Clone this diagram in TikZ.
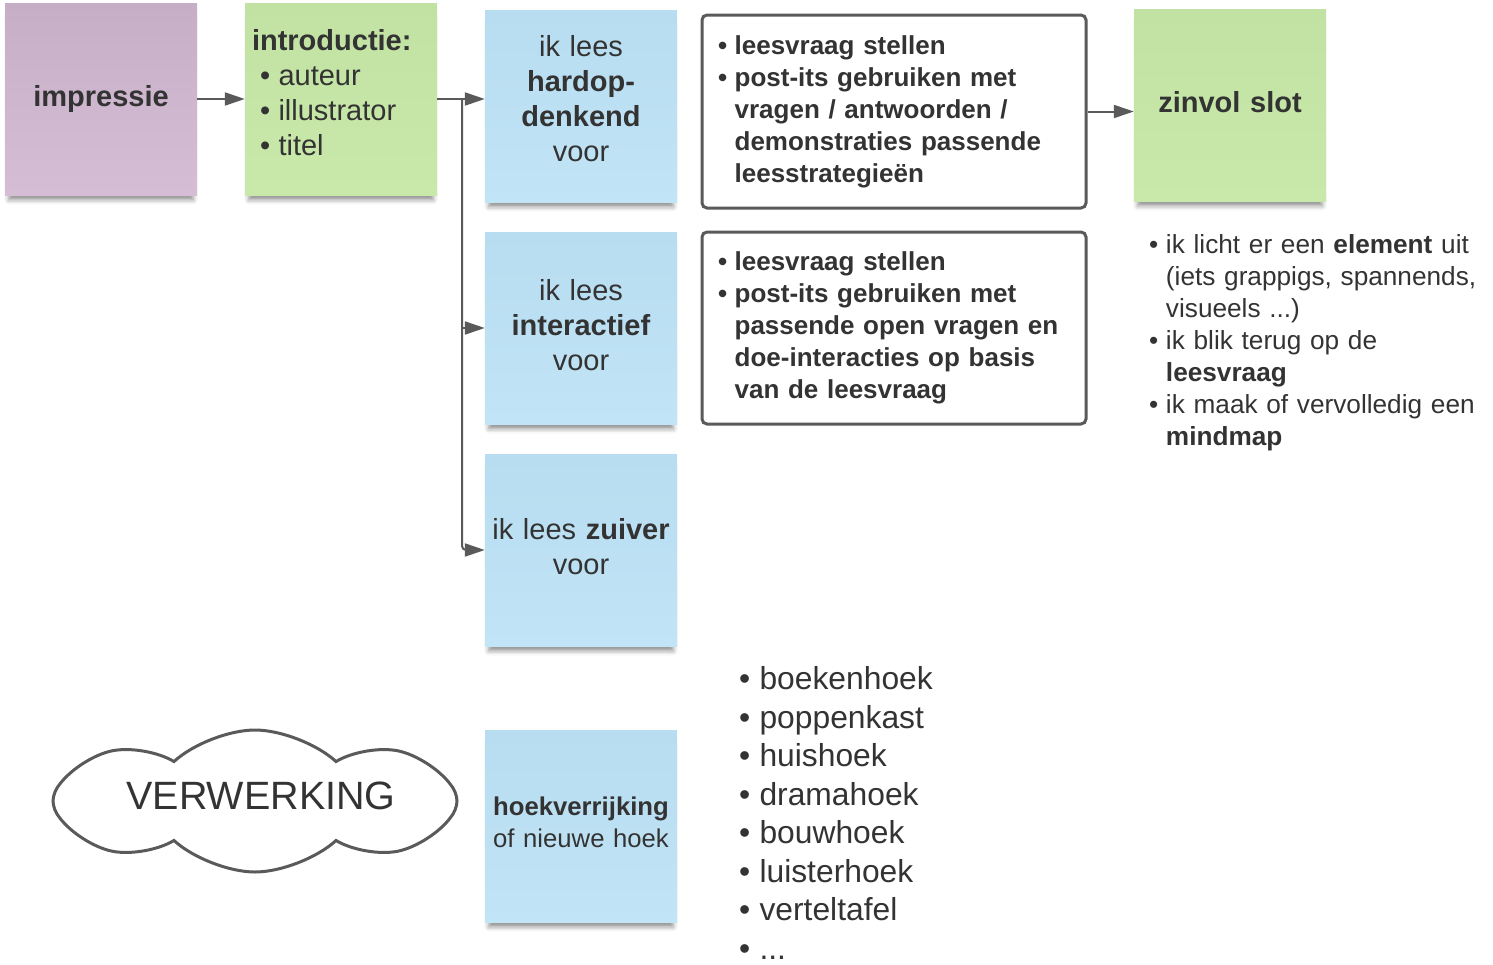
\documentclass[tikz,border=0pt]{standalone}
\usepackage{fontspec}
\setmainfont{Liberation Sans}
\usepackage{xcolor}
\usetikzlibrary{arrows.meta,shapes.symbols,shadows.blur}

\definecolor{txt}{RGB}{51,51,51}
\definecolor{edge}{RGB}{90,90,90}
\definecolor{purpletop}{RGB}{198,174,199}
\definecolor{purplebot}{RGB}{213,190,213}
\definecolor{greentop}{RGB}{193,226,162}
\definecolor{greenbot}{RGB}{201,233,171}
\definecolor{bluetop}{RGB}{184,221,240}
\definecolor{bluebot}{RGB}{193,228,246}

\newcommand{\itm}{\makebox[.64em][l]{\textbullet}}
\newcommand{\ind}{\hspace*{.64em}}
\newcommand{\lift}[1]{\par\vspace*{#1}}

\begin{document}
\begin{tikzpicture}[x=1pt,y=-1pt,
	note/.style={minimum width=192pt, minimum height=192pt, inner sep=0pt,
		text width=186pt, align=center, text=txt,
		font=\fontsize{29}{35}\selectfont,
		blur shadow={shadow xshift=0pt, shadow yshift=-9pt, shadow scale=.96,
			shadow blur radius=5pt, shadow opacity=45}},
	purplenote/.style={note, top color=purpletop, bottom color=purplebot},
	greennote/.style={note, top color=greentop, bottom color=greenbot},
	bluenote/.style={note, top color=bluetop, bottom color=bluebot},
	infobox/.style={draw=edge, line width=3pt, rounded corners=5pt, fill=white,
		minimum width=384pt, minimum height=192pt, text width=352pt,
		inner xsep=14pt, align=left, text=txt,
		font=\bfseries\fontsize{26}{32}\selectfont},
	conn/.style={draw=edge, line width=2pt, -{Triangle[length=20pt,width=13pt]}},
	]
	\useasboundingbox (0,0) rectangle (1493,964);
	
	% top row
	\node[purplenote] (impressie) at (101,99) {\textbf{impressie}};
	\node[greennote, align=left, text width=178pt] (intro) at (341,99)
		{\textbf{introductie:}\\ \hspace*{8pt}\itm auteur\\ \hspace*{8pt}\itm illustrator\\
		 \hspace*{8pt}\itm titel\lift{12pt}};
	\node[bluenote] (hardop) at (581,106) {ik lees\\\textbf{hardop-}\\\textbf{denkend}\\voor\lift{14pt}};
	\node[bluenote] (inter) at (581,328) {ik lees\\\textbf{interactief}\\voor\lift{6pt}};
	\node[bluenote] (zuiver) at (581,550) {ik lees \textbf{zuiver}\\voor\lift{6pt}};
	\node[bluenote, font=\fontsize{25.7}{32}\selectfont] (hoek) at (581,826)
		{\textbf{hoekverrijking}\\of nieuwe hoek\lift{7pt}};
	
	\node[infobox, minimum height=193pt] (box1) at (894,111.5)
		{\itm leesvraag stellen\\ \itm post-its gebruiken met\\ \ind vragen / antwoorden /\\
		 \ind demonstraties passende\\ \ind leesstrategieën};
	\node[infobox] (box2) at (894,328)
		{\itm leesvraag stellen\\ \itm post-its gebruiken met\\ \ind passende open vragen en\\
		 \ind doe-interacties op basis\\ \ind van de leesvraag};
	\node[greennote] (zinvol) at (1230,105) {\textbf{zinvol slot}\lift{6pt}};
	
	\node[anchor=west, inner sep=0pt, text width=335pt, align=left, text=txt,
		font=\fontsize{26.2}{32}\selectfont] (slotlist) at (1149,343)
		{\itm ik licht er een \textbf{element} uit\\ \ind (iets grappigs, spannends,\\
		 \ind visueels ...)\\ \itm ik blik terug op de\\ \ind \textbf{leesvraag}\\
		 \itm ik maak of vervolledig een\\ \ind \textbf{mindmap}};
	
	% verwerking
	\node[cloud, cloud puffs=8, cloud puff arc=85, cloud ignores aspect,
		draw=edge, line width=3pt, minimum width=404pt, minimum height=142pt,
		text depth=11pt, text=txt, font=\fontsize{39.5}{45}\selectfont]
		(verwerking) at (255,801) {\hspace*{12pt}VERWERKING};
	\node[anchor=west, inner sep=0pt, text width=300pt, align=left, text=txt,
		font=\fontsize{31.8}{38.5}\selectfont] (hoeken) at (739,813)
		{\itm boekenhoek\\ \itm poppenkast\\ \itm huishoek\\ \itm dramahoek\\
		 \itm bouwhoek\\ \itm luisterhoek\\ \itm verteltafel\\ \itm ...};
	
	% connectors
	\coordinate (split) at (462,99);
	\draw[conn] (impressie) -- (intro);
	\draw[draw=edge, line width=2pt] (intro.east) -- (split);
	\draw[conn] (split) -- (split -| hardop.west);
	\draw[conn] (split |- inter) -- (inter.west);
	\draw[conn, rounded corners=4pt] (split) -- (split |- zuiver) -- (zuiver.west);
	\draw[conn] (box1.east) -- (box1.east -| zinvol.west);
\end{tikzpicture}
\end{document}
